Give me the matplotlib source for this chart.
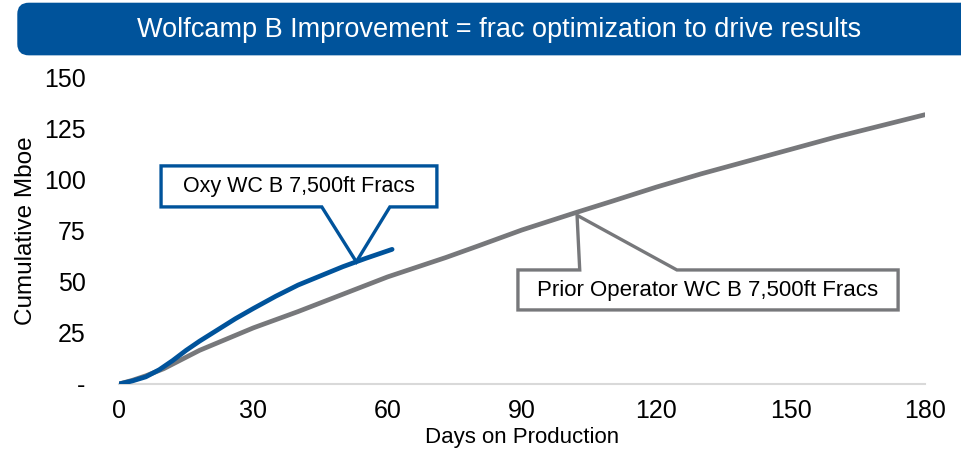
import numpy as np
import matplotlib.pyplot as plt
from matplotlib.patches import FancyBboxPatch, Polygon

plt.rcParams['font.family'] = ['Liberation Sans', 'DejaVu Sans']

# cumulative production (Mboe)
prior_days = [0, 3, 6, 10, 14, 18, 24, 30, 40, 50, 60, 73, 80, 90, 102, 110, 120, 130, 140, 150, 160, 170, 180]
prior_mboe = [0, 1.8, 4, 7.5, 12, 16.5, 22, 27.5, 35.5, 44, 52.5, 62, 67.5, 75.5, 84, 89.5, 96.5, 103, 109, 115, 121, 126.5, 132]
oxy_days = [0, 3, 6, 9, 12, 15, 18, 22, 26, 30, 35, 40, 45, 50, 55, 61]
oxy_mboe = [0, 1.5, 3.5, 7, 11.5, 16.5, 21, 26.5, 32, 37, 43, 48.5, 53, 57.5, 61.5, 66]

title = "Wolfcamp B Improvement = frac optimization to drive results"
oxy_label = "Oxy WC B 7,500ft Fracs"
prior_label = "Prior Operator WC B 7,500ft Fracs"

blue = "#00539B"
grey = "#77787B"

fig = plt.figure(figsize=(9.61, 4.5), dpi=100)
ax = fig.add_axes([0.1238, 0.1467, 0.8387, 0.68])

ax.plot(prior_days, prior_mboe, color=grey, lw=3.4, solid_capstyle='round', zorder=3)
ax.plot(oxy_days, oxy_mboe, color=blue, lw=3.4, solid_capstyle='round', zorder=4)

ax.set_xlim(0, 180)
ax.set_ylim(0, 150)
ax.set_xticks(range(0, 181, 30))
ax.set_yticks(range(0, 151, 25))
ax.set_yticklabels(["-"] + [str(v) for v in range(25, 151, 25)])
ax.tick_params(length=0, labelsize=18)
ax.tick_params(axis='y', pad=24)
ax.tick_params(axis='x', pad=11)
for s in ['top', 'right', 'left']:
    ax.spines[s].set_visible(False)
ax.spines['bottom'].set_color("#D9D9D9")
ax.spines['bottom'].set_linewidth(1.5)
ax.set_xlabel("Days on Production", fontsize=16, labelpad=3)
ax.set_ylabel("Cumulative Mboe", fontsize=17.5, labelpad=5)

# callouts
tip_oxy = (53, np.interp(53, oxy_days, oxy_mboe))
box_oxy = [(9.4, 106.9), (71, 106.9), (71, 86.8), (60.5, 86.8), tip_oxy, (45.3, 86.8), (9.4, 86.8)]
ax.add_patch(Polygon(box_oxy, closed=True, facecolor='white', edgecolor=blue, lw=2.4,
                     joinstyle='miter', zorder=5, clip_on=False))
ax.text(40.2, 96.8, oxy_label, ha='center', va='center', fontsize=15.5, zorder=6)

tip_prior = (102.3, np.interp(102.3, prior_days, prior_mboe) - 1.5)
box_prior = [(89.1, 55.9), (102.9, 55.9), tip_prior, (124.6, 55.9), (174, 55.9), (174, 36.3), (89.1, 36.3)]
ax.add_patch(Polygon(box_prior, closed=True, facecolor='white', edgecolor=grey, lw=2.4,
                     joinstyle='miter', zorder=5, clip_on=False))
ax.text(131.5, 46, prior_label, ha='center', va='center', fontsize=16, zorder=6)

# title banner
banner = FancyBboxPatch((0.018, 0.877), 1.05, 0.117, boxstyle="round,pad=0,rounding_size=0.012",
                        transform=fig.transFigure, facecolor=blue, edgecolor='none',
                        mutation_aspect=2.1)
fig.patches.append(banner)
fig.text(0.519, 0.933, title, color='white', fontsize=19.5, ha='center', va='center')

fig.savefig("out.png", dpi=100)
